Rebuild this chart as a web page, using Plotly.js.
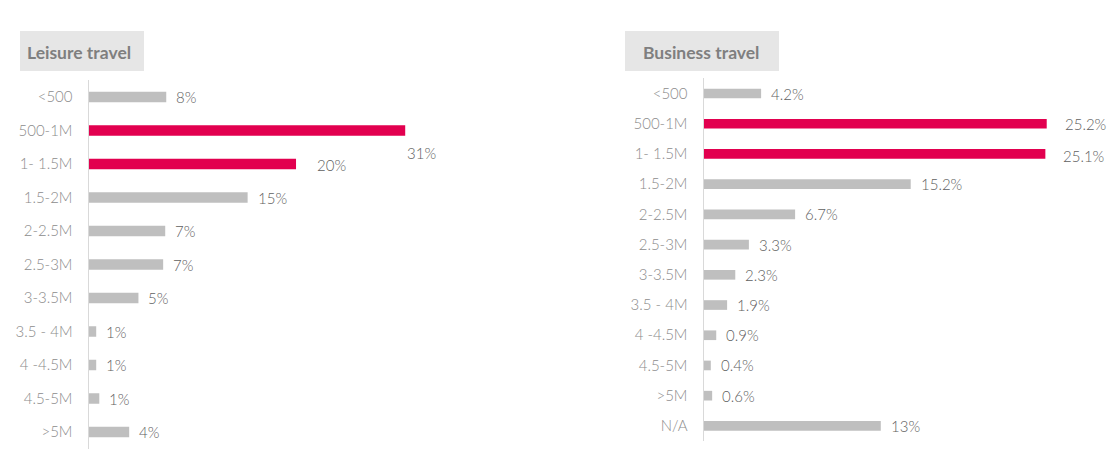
<!DOCTYPE html>
<html>
<head>
<meta charset="utf-8">
<script src="https://cdn.plot.ly/plotly-3.0.1.min.js"></script>
<style>html,body{margin:0;padding:0;background:#fff;}#chart{width:1116px;height:455px;}</style>
</head>
<body>
<div id="chart"></div>
<script>
// ---- data ----
const leisureCategories = ["<500","500-1M","1- 1.5M","1.5-2M","2-2.5M","2.5-3M","3-3.5M","3.5 - 4M","4 -4.5M","4.5-5M",">5M"];
const leisureValues = [7.5, 30.7, 20.1, 15.4, 7.4, 7.2, 4.8, 0.7, 0.7, 1.0, 3.9];
const leisureLabels = ["8%","31%","20%","15%","7%","7%","5%","1%","1%","1%","4%"];
const leisureHighlight = [false,true,true,false,false,false,false,false,false,false,false];

const businessCategories = ["<500","500-1M","1- 1.5M","1.5-2M","2-2.5M","2.5-3M","3-3.5M","3.5 - 4M","4 -4.5M","4.5-5M",">5M","N/A"];
const businessValues = [4.2, 25.2, 25.1, 15.2, 6.7, 3.3, 2.3, 1.7, 0.9, 0.5, 0.6, 13.0];
const businessLabels = ["4.2%","25.2%","25.1%","15.2%","6.7%","3.3%","2.3%","1.9%","0.9%","0.4%","0.6%","13%"];
const businessHighlight = [false,true,true,false,false,false,false,false,false,false,false,false];

const titles = ["Leisure travel","Business travel"];

// ---- styling ----
const RED = "#e2004f", GREY = "#bfbfbf";
const W = 1116, H = 455;
const px = v => v / W, py = v => 1 - v / H;
const FONT = "Lato, 'Open Sans', sans-serif";

const traces = [
  {type:"bar", orientation:"h", y: leisureCategories, x: leisureValues,
   marker:{color: leisureHighlight.map(h => h ? RED : GREY)}, xaxis:"x", yaxis:"y", hoverinfo:"none"},
  {type:"bar", orientation:"h", y: businessCategories, x: businessValues,
   marker:{color: businessHighlight.map(h => h ? RED : GREY)}, xaxis:"x2", yaxis:"y2", hoverinfo:"none"}
];

const valueFont = {family:FONT, size:15, color:"#5f5f5f", weight:300};
const annotations = [];
leisureLabels.forEach((t,i) => {
  let xs = 8, ys = 0;
  if (leisureHighlight[i]) { xs = (i === 1) ? 0 : 19; ys = (i === 1) ? -22 : -1; }
  annotations.push({xref:"x", yref:"y", x: leisureValues[i], y: leisureCategories[i], text: t,
    showarrow:false, xanchor:"left", xshift: xs, yshift: ys, font: valueFont});
});
businessLabels.forEach((t,i) => {
  let xs = businessHighlight[i] ? 16 : 8;
  let ys = (i === 2) ? -2 : 0;
  annotations.push({xref:"x2", yref:"y2", x: businessValues[i], y: businessCategories[i], text: t,
    showarrow:false, xanchor:"left", xshift: xs, yshift: ys, font: valueFont});
});
// title texts
const titleFont = {family:FONT, size:17.5, color:"#7f7f7f", weight:700};
annotations.push({xref:"paper", yref:"paper", x: px(25), y: py(52), xanchor:"left", yanchor:"middle",
  text:titles[0], showarrow:false, font:titleFont});
annotations.push({xref:"paper", yref:"paper", x: px(641), y: py(52), xanchor:"left", yanchor:"middle",
  text:titles[1], showarrow:false, font:titleFont});

const shapes = [
  {type:"rect", xref:"paper", yref:"paper", x0:px(20), x1:px(144), y0:py(71), y1:py(31), fillcolor:"#e6e6e6", line:{width:0}, layer:"below"},
  {type:"rect", xref:"paper", yref:"paper", x0:px(625), x1:px(779), y0:py(71), y1:py(31), fillcolor:"#e6e6e6", line:{width:0}, layer:"below"}
];

const yCommon = {type:"category", autorange:"reversed", showline:true, linecolor:"#d9d9d9", linewidth:1.5,
  ticks:"outside", ticklen:12, tickcolor:"rgba(0,0,0,0)", showgrid:false, zeroline:false,
  tickfont:{family:FONT, size:15, color:"#8c8c8c", weight:300}, fixedrange:true};
const xCommon = {showgrid:false, zeroline:false, showticklabels:false, showline:false, ticks:"", fixedrange:true};

const layout = {
  width:W, height:H, margin:{l:0,r:0,t:0,b:0}, paper_bgcolor:"#fff", plot_bgcolor:"#fff",
  showlegend:false, bargap:0.68,
  xaxis: Object.assign({}, xCommon, {domain:[px(89), px(480)], range:[0, 391/10.3], anchor:"y"}),
  yaxis: Object.assign({}, yCommon, {domain:[py(448.75), py(80.25)], anchor:"x"}),
  xaxis2: Object.assign({}, xCommon, {domain:[px(704), px(1100)], range:[0, 396/13.6], anchor:"y2"}),
  yaxis2: Object.assign({}, yCommon, {domain:[py(441), py(78.4)], anchor:"x2"}),
  annotations, shapes
};

Plotly.newPlot("chart", traces, layout, {displayModeBar:false, staticPlot:true});
</script>
</body>
</html>
